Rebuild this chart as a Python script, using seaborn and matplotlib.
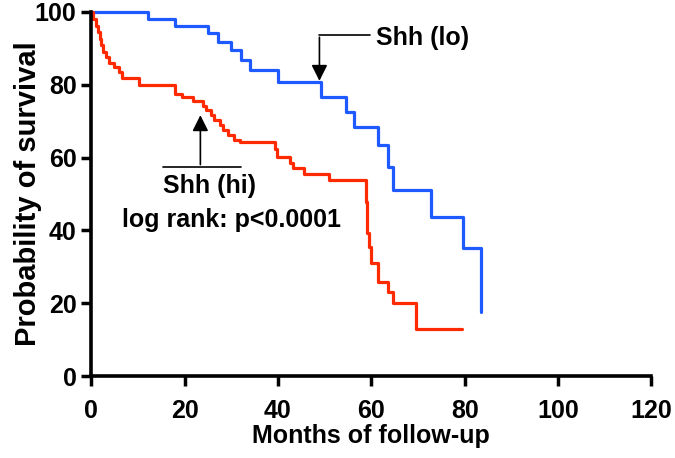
"""Kaplan-Meier style survival curves, Shh (lo) vs Shh (hi)."""

import matplotlib
matplotlib.use("Agg")
import matplotlib.pyplot as plt
import pandas as pd
import seaborn as sns

# step curves (months, % surviving after each step)
lo_months = [0, 12.1, 18.0, 25.1, 27.2, 30.0, 32.0, 34.1, 40.0, 49.3, 54.6,
             56.2, 61.4, 63.6, 64.6, 72.9, 79.6, 83.6]
lo_survival = [100, 98.1, 96.2, 94.1, 91.8, 89.6, 86.8, 84.1, 80.7, 76.7, 72.6,
               68.3, 63.5, 57.5, 51.1, 43.8, 35.1, 17.7]

hi_months = [0, 0.5, 1.0, 1.4, 1.8, 2.1, 2.6, 3.1, 3.9, 4.9, 6.0, 6.7, 10.2,
             18.0, 19.5, 21.8, 24.0, 24.6, 25.7, 26.4, 27.5, 28.2, 29.3, 30.7,
             31.8, 39.4, 39.8, 42.5, 43.3, 45.7, 51.0, 58.8, 59.1, 59.5, 60.0,
             61.4, 63.6, 64.6, 69.6, 79.4]
hi_survival = [100, 98, 96, 94.5, 92.5, 91, 89, 87.5, 86, 85, 83.5, 81.8, 80,
               77.5, 76.7, 75.4, 74.2, 73.1, 71.7, 70.3, 69.0, 67.6, 66.2, 64.8,
               64.2, 62.3, 60.2, 58.6, 57.1, 55.5, 53.7, 47.9, 39.2, 35.5, 31.0,
               25.7, 23.0, 20.0, 12.8, 12.8]

x_ticks = [0, 20, 40, 60, 80, 100, 120]
y_ticks = [0, 20, 40, 60, 80, 100]

df = pd.concat([
    pd.DataFrame({"months": lo_months, "survival": lo_survival, "group": "Shh (lo)"}),
    pd.DataFrame({"months": hi_months, "survival": hi_survival, "group": "Shh (hi)"}),
])

sns.set_style("ticks")
plt.rcParams["font.family"] = ["Liberation Sans", "DejaVu Sans"]
plt.rcParams["font.weight"] = "bold"
for key in ("text.color", "axes.labelcolor", "axes.edgecolor", "xtick.color", "ytick.color"):
    plt.rcParams[key] = "black"

fig = plt.figure(figsize=(6.75, 4.58), dpi=100)
ax = fig.add_axes([0.135, 0.179, 0.830, 0.795])

sns.lineplot(
    data=df, x="months", y="survival", hue="group",
    palette={"Shh (lo)": "#1E5AFF", "Shh (hi)": "#FF2A00"},
    estimator=None, sort=False, legend=False,
    drawstyle="steps-post", lw=2.3, clip_on=False, ax=ax,
)

ax.set_xlim(0, 120)
ax.set_ylim(0, 100)
ax.set_xticks(x_ticks)
ax.set_yticks(y_ticks)
ax.set_xlabel("Months of follow-up", fontsize=18, fontweight="bold", labelpad=1)
ax.set_ylabel("Probability of survival", fontsize=21, fontweight="bold")
ax.yaxis.set_label_coords(-0.088, 0.5)
ax.tick_params(direction="out", length=7.5, width=2.5, labelsize=18)
ax.tick_params(axis="x", pad=9)
ax.tick_params(axis="y", pad=3)
for lab in ax.get_xticklabels() + ax.get_yticklabels():
    lab.set_fontweight("bold")
sns.despine(ax=ax)
for side in ("left", "bottom"):
    ax.spines[side].set_linewidth(2.6)

# Shh (lo) label with elbow arrow
ax.plot([48.9, 59.7], [93.7, 93.7], color="black", lw=1.2)
ax.annotate("", xy=(48.9, 80.3), xytext=(48.9, 93.8),
            arrowprops=dict(arrowstyle="-|>", mutation_scale=24, lw=1.2, color="black"))
ax.text(61, 90.9, "Shh (lo)", fontsize=18, fontweight="bold", va="baseline", ha="left")

# Shh (hi) label with arrow from underline
ax.plot([15.4, 32.1], [57.3, 57.3], color="black", lw=1.2)
ax.annotate("", xy=(23.4, 72.4), xytext=(23.4, 57.3),
            arrowprops=dict(arrowstyle="-|>", mutation_scale=24, lw=1.2, color="black"))
ax.text(25.4, 50.2, "Shh (hi)", fontsize=18, fontweight="bold", va="baseline", ha="center")
ax.text(30.1, 41.0, "log rank: p<0.0001", fontsize=18, fontweight="bold",
        va="baseline", ha="center")

fig.savefig("out.png", dpi=100)
plt.close(fig)
